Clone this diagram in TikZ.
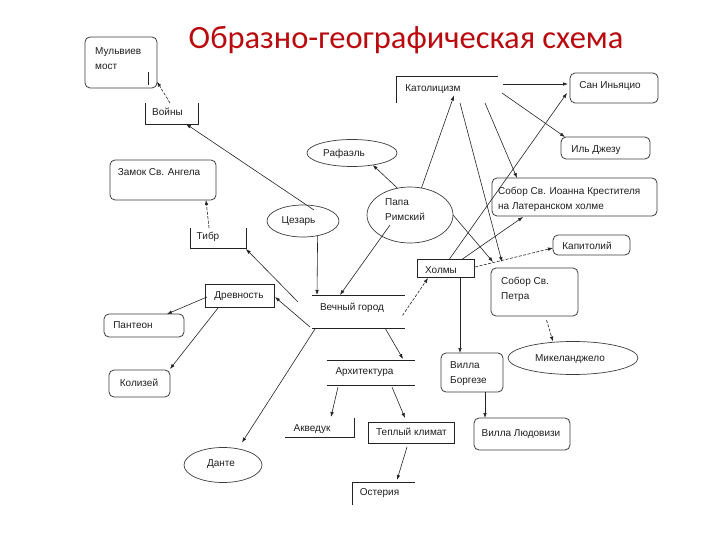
\documentclass[tikz,border=0pt]{standalone}
\usepackage{fontspec}
\setmainfont{Liberation Sans}
\newfontfamily\titlefont{Carlito}
\usetikzlibrary{arrows.meta,calc,shapes.geometric}
\definecolor{titlered}{RGB}{185,10,15}
\definecolor{linec}{RGB}{35,35,35}
\definecolor{boxc}{RGB}{60,60,60}
\definecolor{txtc}{RGB}{30,30,30}
\begin{document}
\begin{tikzpicture}[x=1pt,y=-1pt,
  shp/.style={inner sep=0pt, outer sep=0pt, anchor=center},
  rbox/.style={shp, rectangle, draw=boxc, line width=0.8pt, rounded corners=5pt},
  sbox/.style={shp, rectangle, draw=linec, line width=0.8pt},
  obox/.style={shp, rectangle},
  ell/.style={shp, ellipse, draw=boxc, line width=0.7pt},
  txt/.style={inner sep=0pt, anchor=base, font=\fontsize{10}{12}\selectfont, text=txtc},
  ltxt/.style={txt, anchor=base west},
  conn/.style={draw=linec, line width=0.6pt, -{Latex[length=5pt,width=3.6pt]}},
  dconn/.style={conn, dash pattern=on 3pt off 1.5pt},
  side/.style={draw=linec, line width=0.8pt}
]
\path[use as bounding box] (0,0) rectangle (720,540);

% title
\node[inner sep=0pt, anchor=base, font=\titlefont\fontsize{32.5}{38}\selectfont, text=titlered] (title) at (406,49) {Образно-географическая схема};

% shapes
\node[rbox, minimum width=72pt, minimum height=51pt] (mulv) at (121,62.5) {};
\node[obox, minimum width=53pt, minimum height=21pt] (voiny) at (171.5,113.5) {};
\node[rbox, minimum width=106pt, minimum height=40pt] (zamok) at (163,180) {};
\node[obox, minimum width=56pt, minimum height=20pt] (tibr) at (218,238) {};
\node[ell, minimum width=72pt, minimum height=32pt] (cezar) at (303,221) {};
\node[ell, minimum width=90pt, minimum height=27pt] (rafael) at (352,153) {};
\node[ell, minimum width=86pt, minimum height=56pt] (papa) at (410,215) {};
\node[obox, minimum width=102pt, minimum height=27pt] (katol) at (447,89.5) {};
\node[rbox, minimum width=88pt, minimum height=30pt] (sanig) at (614,88) {};
\node[rbox, minimum width=89pt, minimum height=22pt] (dzhezu) at (605.5,148) {};
\node[rbox, minimum width=165pt, minimum height=38pt] (ioann) at (574.5,197) {};
\node[rbox, minimum width=77pt, minimum height=20pt] (kapit) at (591.5,245) {};
\node[sbox, minimum width=57pt, minimum height=18pt] (holmy) at (445.5,268) {};
\node[rbox, minimum width=87pt, minimum height=48pt] (petr) at (534.5,292) {};
\node[ell, minimum width=130pt, minimum height=33pt] (mikel) at (573,358) {};
\node[rbox, minimum width=62pt, minimum height=39pt] (borg) at (472,372.5) {};
\node[rbox, minimum width=96pt, minimum height=32pt] (ludov) at (522,434) {};
\node[obox, minimum width=93pt, minimum height=33pt] (vechny) at (358.5,311.5) {};
\node[sbox, minimum width=69pt, minimum height=23pt] (drevn) at (239.5,295.5) {};
\node[rbox, minimum width=80pt, minimum height=23pt] (panteon) at (144,325.5) {};
\node[rbox, minimum width=61pt, minimum height=27pt] (koliz) at (139.5,383.5) {};
\node[ell, minimum width=78pt, minimum height=35pt] (dante) at (223,465) {};
\node[obox, minimum width=88pt, minimum height=25pt] (arch) at (371,372.5) {};
\node[obox, minimum width=69pt, minimum height=19pt] (akved) at (319.5,427.5) {};
\node[sbox, minimum width=86pt, minimum height=21pt] (teply) at (411,432.5) {};
\node[obox, minimum width=63pt, minimum height=23pt] (osteria) at (383.5,493.5) {};

% open sides
\draw[side] (voiny.north west) -- (voiny.south west) -- (voiny.south east) -- (voiny.north east);
\draw[side] (tibr.north west) -- (tibr.south west) -- (tibr.south east) -- (tibr.north east);
\draw[side] (katol.south west) -- (katol.north west) -- (katol.north east);
\draw[side] (akved.north east) -- (akved.south east) -- (akved.south west);
\draw[side] (osteria.south west) -- (osteria.north west) -- (osteria.north east);
\draw[side] (vechny.north west) -- (vechny.north east);
\draw[side] (vechny.south west) -- (vechny.south east);
\draw[side] (arch.north west) -- (arch.north east);
\draw[side] (arch.south west) -- (arch.south east);
\draw[side] ($(mulv.south east)+(-9,-16)$) -- ($(mulv.south east)+(-9,-3)$);

% texts
\node[ltxt] (mulvT1) at (95,54.5) {Мульвиев};
\node[ltxt] (mulvT2) at (95,69.5) {мост};
\node[txt] (voinyT) at (167.5,116) {Войны};
\node[txt] (zamokT) at (159,176) {Замок Св. Ангела};
\node[txt] (tibrT) at (208,239.5) {Тибр};
\node[txt] (cezarT) at (298.5,223.5) {Цезарь};
\node[txt] (rafaelT) at (344,156.5) {Рафаэль};
\node[ltxt] (papaT1) at (385,205.5) {Папа};
\node[ltxt] (papaT2) at (385,220.5) {Римский};
\node[txt] (katolT) at (433,91.5) {Католицизм};
\node[txt] (sanigT) at (610,88.5) {Сан Иньяцио};
\node[txt] (dzhezuT) at (596,152.5) {Иль Джезу};
\node[ltxt] (ioannT1) at (498,194.5) {Собор Св. Иоанна Крестителя};
\node[ltxt] (ioannT2) at (498,209.5) {на Латеранском холме};
\node[txt] (kapitT) at (587,249) {Капитолий};
\node[txt] (holmyT) at (441,273) {Холмы};
\node[ltxt] (petrT1) at (501,284.5) {Собор Св.};
\node[ltxt] (petrT2) at (501,299.5) {Петра};
\node[txt] (mikelT) at (570,361) {Микеланджело};
\node[ltxt] (borgT1) at (450,368.5) {Вилла};
\node[ltxt] (borgT2) at (450,383) {Боргезе};
\node[txt] (ludovT) at (521,436.5) {Вилла Людовизи};
\node[txt] (vechnyT) at (352,310) {Вечный город};
\node[txt] (drevnT) at (239,298.5) {Древность};
\node[txt] (panteonT) at (133,328.5) {Пантеон};
\node[txt] (kolizT) at (139,386) {Колизей};
\node[txt] (danteT) at (221,466.5) {Данте};
\node[txt] (archT) at (364.5,374.5) {Архитектура};
\node[txt] (akvedT) at (312,431.5) {Акведук};
\node[txt] (teplyT) at (411.5,435.5) {Теплый климат};
\node[txt] (osteriaT) at (379.5,495) {Остерия};

% connectors
\draw[dconn] ($(voiny.north)+(-1.5,0)$) -- (mulv.-28);
\draw[conn] ($(cezar.center)+(11,-11)$) -- ($(voiny.south east)+(-12,0)$);
\draw[dconn] ($(tibr.north)+(-9,0)$) -- ($(zamok.south)+(43,0)$);
\draw[conn] (cezar.-45) -- ($(vechny.north west)+(5,0)$);
\draw[conn] (papa.115) -- (rafael.-30);
\draw[conn] (papa.67) -- ($(katol.center)+(7,6)$);
\draw[conn] ($(papa.center)+(-20,10)$) -- ($(vechny.north west)+(28,0)$);
\draw[conn] (papa.east) -- ($(petr.north west)+(2,-6)$);
\draw[conn] ($(katol.east)+(5,-5.5)$) -- ($(sanig.west)+(-2,-4)$);
\draw[conn] ($(katol.east)+(4,3.5)$) -- ($(dzhezu.north west)+(4,0)$);
\draw[conn] ($(katol.south)+(38,0)$) -- ($(ioann.north west)+(25,0)$);
\draw[conn] ($(katol.south)+(13,0)$) -- ($(petr.north west)+(11,-6)$);
\draw[conn] ($(holmy.north)+(4,0)$) -- ($(sanig.south west)+(-3,-10)$);
\draw[conn] ($(holmy.north)+(17,0)$) -- ($(ioann.south west)+(31,1)$);
\draw[dconn] ($(holmy.east)+(1,-1)$) -- ($(kapit.west)+(0,3)$);
\draw[conn] ($(holmy.south)+(14.5,0)$) -- ($(borg.north west)+(19,0)$);
\draw[dconn] ($(vechny.center)+(44,4)$) -- ($(holmy.south west)+(11,1)$);
\draw[dconn] ($(petr.south)+(12,4)$) -- ($(mikel.north)+(-20,0)$);
\draw[conn] ($(borg.south)+(13,0)$) -- ($(ludov.north west)+(11,0)$);
\draw[conn] ($(vechny.south west)+(-2,-1)$) -- ($(drevn.east)+(1,1.5)$);
\draw[conn] ($(vechny.west)+(-14,-9.5)$) -- ($(tibr.south east)+(0,1)$);
\draw[conn] ($(drevn.west)+(2,1.5)$) -- ($(panteon.north)+(23,0)$);
\draw[conn] ($(drevn.south)+(-21.5,1)$) -- ($(koliz.north east)+(0,-1)$);
\draw[conn] ($(vechny.south west)+(3,1)$) -- ($(dante.north)+(19,-5)$);
\draw[conn] ($(vechny.south east)+(-20,0)$) -- ($(arch.north east)+(-12,-1)$);
\draw[conn] ($(arch.south west)+(11,2)$) -- ($(akved.north)+(11.5,-1)$);
\draw[conn] ($(arch.south west)+(65,2)$) -- ($(teply.north)+(-6,-4)$);
\draw[conn] ($(teply.south)+(-4,4)$) -- ($(osteria.north)+(13.5,-2)$);
\end{tikzpicture}
\end{document}
